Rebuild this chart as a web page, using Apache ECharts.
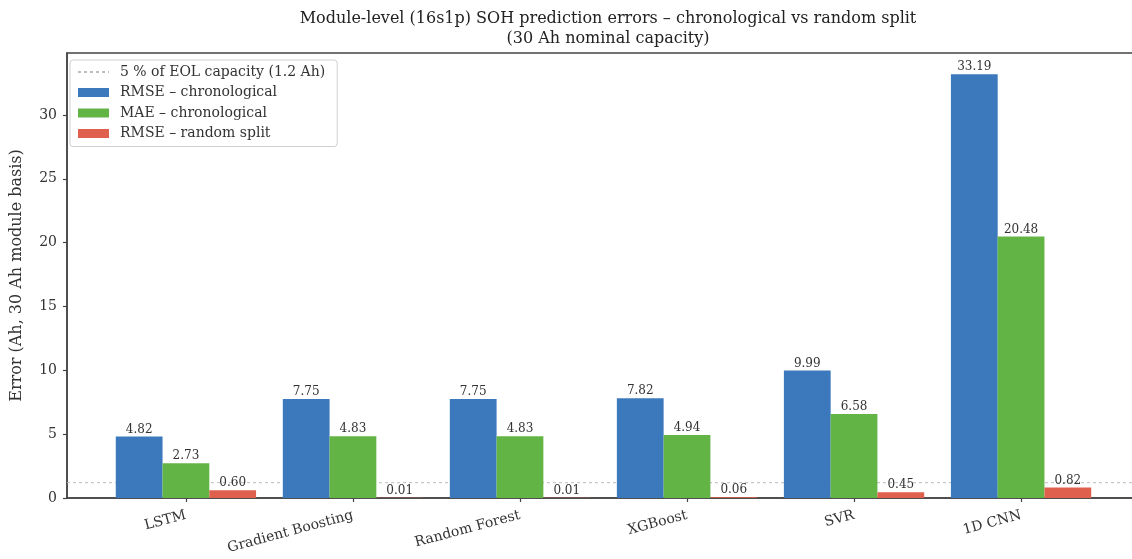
<!DOCTYPE html>
<html>
<head>
<meta charset="utf-8">
<script src="https://cdn.jsdelivr.net/npm/echarts@6/dist/echarts.min.js"></script>
<style>
  html, body { margin: 0; padding: 0; background: #fff; }
  #chart { width: 1132px; height: 559px; }
</style>
</head>
<body>
<div id="chart"></div>
<script>
// Models on the x axis
const categories = ['LSTM', 'Gradient Boosting', 'Random Forest', 'XGBoost', 'SVR', '1D CNN'];

// Errors in Ah (30 Ah module basis)
const rmseChrono = [4.82, 7.75, 7.75, 7.82, 9.99, 33.19];
const maeChrono = [2.73, 4.83, 4.83, 4.94, 6.58, 20.48];
const rmseRandom = [0.60, 0.01, 0.01, 0.06, 0.45, 0.82];

// Reference line: 5 % of end-of-life capacity
const eolThreshold = 1.2;

const yTicks = [0, 5, 10, 15, 20, 25, 30];

const FONT = 'DejaVu Serif';
const BAR_W = 0.28;
const X_MIN = -0.712, X_MAX = 5.712;

function barSeries(name, values, offset, color) {
  return {
    name: name,
    type: 'custom',
    itemStyle: { color: color },
    z: 3,
    data: values.map((v, i) => [i, v]),
    encode: { x: 0, y: 1 },
    renderItem: function (params, api) {
      const x = api.value(0) + offset;
      const v = api.value(1);
      const top = api.coord([x - BAR_W / 2, v]);
      const base = api.coord([x + BAR_W / 2, 0]);
      return {
        type: 'group',
        children: [
          {
            type: 'rect',
            shape: { x: top[0], y: top[1], width: base[0] - top[0], height: base[1] - top[1] },
            style: { fill: color }
          },
          {
            type: 'text',
            style: {
              x: (top[0] + base[0]) / 2,
              y: top[1] - 1,
              text: v.toFixed(2),
              align: 'center',
              verticalAlign: 'bottom',
              fill: '#333',
              font: '12px "' + FONT + '"'
            },
            z2: 10
          }
        ]
      };
    }
  };
}

const chart = echarts.init(document.getElementById('chart'), null, { renderer: 'canvas' });

chart.setOption({
  backgroundColor: '#ffffff',
  animation: false,
  title: {
    text: 'Module-level (16s1p) SOH prediction errors – chronological vs random split\n(30 Ah nominal capacity)',
    left: 603,
    top: 4,
    textAlign: 'center',
    textStyle: { fontFamily: FONT, fontSize: 16, fontWeight: 'normal', color: '#222', lineHeight: 20 }
  },
  grid: {
    left: 67,
    top: 53,
    width: 1073,
    height: 445,
    show: true,
    borderColor: '#444',
    borderWidth: 1.5,
    containLabel: false,
    outerBoundsMode: 'none'
  },
  legend: {
    orient: 'vertical',
    left: 70,
    top: 60,
    itemWidth: 31,
    itemHeight: 9,
    itemGap: 6.5,
    padding: [5, 12, 6, 7],
    borderColor: '#d0d0d0',
    borderWidth: 1,
    borderRadius: 3,
    backgroundColor: 'rgba(255,255,255,0.85)',
    textStyle: { fontFamily: FONT, fontSize: 14, color: '#333', padding: [0, 0, 0, 6] },
    data: [
      { name: '5 % of EOL capacity (1.2 Ah)', itemStyle: { opacity: 0 } },
      { name: 'RMSE – chronological', icon: 'rect' },
      { name: 'MAE – chronological', icon: 'rect' },
      { name: 'RMSE – random split', icon: 'rect' }
    ]
  },
  xAxis: {
    type: 'value',
    min: X_MIN,
    max: X_MAX,
    splitLine: { show: false },
    axisLine: { show: true, onZero: false, lineStyle: { color: '#444', width: 1.5 } },
    axisTick: {
      show: true,
      length: 4,
      customValues: categories.map((c, i) => i),
      lineStyle: { color: '#444', width: 1.2 }
    },
    axisLabel: {
      show: true,
      rotate: 15,
      margin: 17,
      customValues: categories.map((c, i) => i),
      formatter: function (v) { return categories[Math.round(v)] || ''; },
      fontFamily: FONT,
      fontSize: 14,
      color: '#333'
    }
  },
  yAxis: {
    type: 'value',
    min: 0,
    max: 34.85,
    name: 'Error (Ah, 30 Ah module basis)',
    nameLocation: 'middle',
    nameRotate: 90,
    nameGap: 42,
    nameTextStyle: { fontFamily: FONT, fontSize: 16, color: '#333' },
    splitLine: { show: false },
    axisLine: { show: true, onZero: false, lineStyle: { color: '#444', width: 1.5 } },
    axisTick: { show: true, length: 4, customValues: yTicks, lineStyle: { color: '#444', width: 1.2 } },
    axisLabel: {
      fontFamily: FONT,
      fontSize: 14,
      color: '#333',
      margin: 10,
      customValues: yTicks
    }
  },
  series: [
    {
      name: '5 % of EOL capacity (1.2 Ah)',
      type: 'line',
      symbol: 'none',
      z: 1,
      silent: true,
      lineStyle: { color: '#bdbdbd', width: 1, type: [3, 3] },
      itemStyle: { color: '#bdbdbd' },
      data: [[X_MIN, eolThreshold], [X_MAX, eolThreshold]]
    },
    barSeries('RMSE – chronological', rmseChrono, -BAR_W, '#3b78bc'),
    barSeries('MAE – chronological', maeChrono, 0, '#62b544'),
    barSeries('RMSE – random split', rmseRandom, BAR_W, '#e0604e')
  ]
});
</script>
</body>
</html>
